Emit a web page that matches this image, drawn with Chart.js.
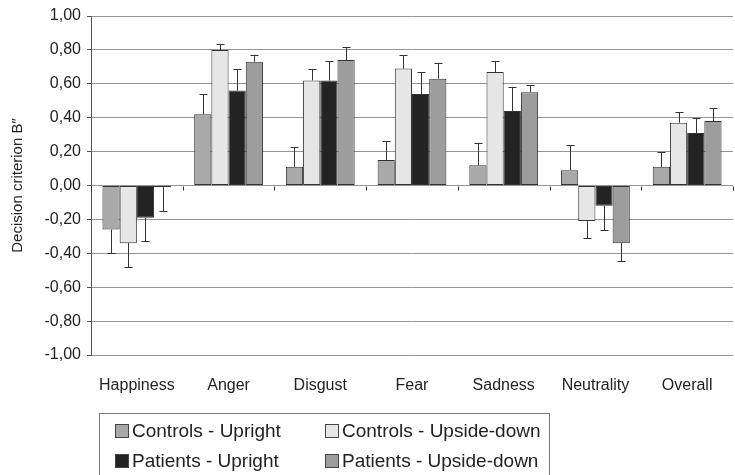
<!DOCTYPE html>
<html>
<head>
<meta charset="utf-8">
<script src="https://cdn.jsdelivr.net/npm/chart.js@4/dist/chart.umd.min.js"></script>
<style>
  html, body { margin: 0; padding: 0; background: #fff; }
  #wrap { position: relative; width: 735px; height: 475px; overflow: hidden; }
  #legend {
    position: absolute; left: 99px; top: 413px; width: 451px; height: 80px;
    border: 1px solid #777; box-sizing: border-box;
    font-family: "Liberation Sans", Arial, sans-serif; font-size: 19px; color: #222;
  }
  .item { position: absolute; display: flex; align-items: center; height: 22px; }
  .sw { width: 14px; height: 14px; border: 1px solid #444; box-sizing: border-box; margin-right: 3px; }
</style>
</head>
<body>
<div id="wrap">
  <canvas id="chart" width="735" height="475"></canvas>
  <div id="legend"></div>
</div>
<script>
// ── Data ───────────────────────────────────────────────────
const categories = ['Happiness', 'Anger', 'Disgust', 'Fear', 'Sadness', 'Neutrality', 'Overall'];
const seriesNames = ['Controls - Upright', 'Controls - Upside-down', 'Patients - Upright', 'Patients - Upside-down'];

const controlsUpright    = [-0.26, 0.42, 0.11, 0.15, 0.12,  0.09, 0.11];
const controlsUpsideDown = [-0.34, 0.80, 0.62, 0.69, 0.67, -0.21, 0.37];
const patientsUpright    = [-0.19, 0.56, 0.62, 0.54, 0.44, -0.12, 0.31];
const patientsUpsideDown = [-0.01, 0.73, 0.74, 0.63, 0.55, -0.34, 0.38];

// error bar lengths (one-sided, away from zero)
const errControlsUpright    = [0.14, 0.12, 0.12, 0.11, 0.13, 0.15, 0.085];
const errControlsUpsideDown = [0.14, 0.035, 0.07, 0.08, 0.065, 0.10, 0.065];
const errPatientsUpright    = [0.135, 0.13, 0.115, 0.13, 0.14, 0.145, 0.09];
const errPatientsUpsideDown = [0.14, 0.04, 0.08, 0.095, 0.045, 0.105, 0.075];

const yTicks = [-1, -0.8, -0.6, -0.4, -0.2, 0, 0.2, 0.4, 0.6, 0.8, 1];

const colors = ['#a9a9a9', '#e6e6e6', '#232323', '#9d9d9d'];
const values = [controlsUpright, controlsUpsideDown, patientsUpright, patientsUpsideDown];
const errors = [errControlsUpright, errControlsUpsideDown, errPatientsUpright, errPatientsUpsideDown];

const FONT = '"Liberation Sans", Arial, sans-serif';

// ── Error bars + zero axis marks ───────────────────────────
const errorBars = {
  id: 'errorBars',
  afterDatasetsDraw(chart) {
    const { ctx, scales: { y }, chartArea } = chart;
    ctx.save();
    ctx.strokeStyle = '#333';
    ctx.lineWidth = 1;
    // small category ticks on zero line
    const y0 = Math.round(y.getPixelForValue(0)) + 0.5;
    for (let i = 0; i <= categories.length; i++) {
      const xb = Math.round(chartArea.left + i * (chartArea.right - chartArea.left) / categories.length) + 0.5;
      ctx.beginPath(); ctx.moveTo(xb, y0); ctx.lineTo(xb, y0 + 4); ctx.stroke();
    }
    chart.data.datasets.forEach((ds, di) => {
      const meta = chart.getDatasetMeta(di);
      meta.data.forEach((bar, i) => {
        const v = ds.data[i];
        const end = v + (v >= 0 ? 1 : -1) * errors[di][i];
        const xp = Math.round(bar.x) + 0.5;
        const yEnd = Math.round(y.getPixelForValue(end)) + 0.5;
        ctx.beginPath();
        ctx.moveTo(xp, bar.y);
        ctx.lineTo(xp, yEnd);
        ctx.moveTo(xp - 4, yEnd);
        ctx.lineTo(xp + 4, yEnd);
        ctx.stroke();
      });
    });
    ctx.restore();
  }
};

new Chart(document.getElementById('chart'), {
  type: 'bar',
  data: {
    labels: categories,
    datasets: seriesNames.map((name, i) => ({
      label: name,
      data: values[i],
      backgroundColor: colors[i],
      borderColor: '#333',
      borderWidth: 1,
      borderSkipped: false,
      categoryPercentage: 0.75,
      barPercentage: 1.0,
    })),
  },
  options: {
    responsive: false,
    animation: false,
    layout: { padding: { left: 0, top: 16, right: 2, bottom: 70 } },
    plugins: { legend: { display: false }, tooltip: { enabled: false } },
    scales: {
      x: {
        grid: { display: false, drawTicks: false },
        border: { display: false },
        ticks: { color: '#222', font: { family: FONT, size: 16 }, padding: 21, maxRotation: 0 },
        afterFit(scale) { scale.height = 50; },
      },
      y: {
        min: -1, max: 1,
        afterBuildTicks(scale) { scale.ticks = yTicks.map(v => ({ value: v })); },
        grid: { color: '#959595', lineWidth: 1, tickLength: 4, tickColor: '#555' },
        border: { display: true, color: '#555' },
        ticks: {
          color: '#222', font: { family: FONT, size: 16 }, padding: 6,
          callback: v => (Math.abs(v) < 1e-9 ? 0 : v).toFixed(2).replace('.', ','),
        },
        title: {
          display: true, text: 'Decision criterion B\u2033', color: '#222',
          font: { family: FONT, size: 15 }, padding: { top: 9, bottom: 0 },
        },
        afterFit(scale) { scale.width = 91; },
      },
    },
  },
  plugins: [errorBars],
});

// ── Legend (boxed, two columns) ────────────────────────────
const legend = document.getElementById('legend');
const pos = [[15, 6], [225, 6], [15, 36], [225, 36]];
seriesNames.forEach((name, si) => {
  const it = document.createElement('div');
  it.className = 'item';
  it.style.left = pos[si][0] + 'px';
  it.style.top = pos[si][1] + 'px';
  it.innerHTML = '<span class="sw" style="background:' + colors[si] + '"></span><span>' + name + '</span>';
  legend.appendChild(it);
});
</script>
</body>
</html>
